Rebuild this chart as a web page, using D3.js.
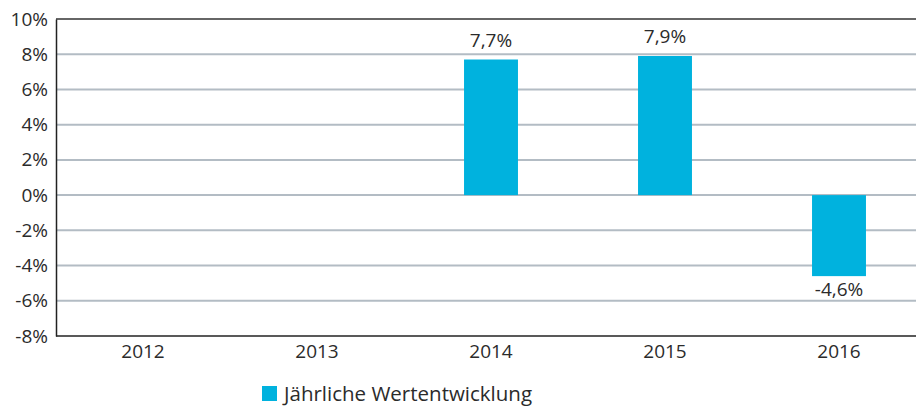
<!DOCTYPE html>
<html>
<head>
<meta charset="utf-8">
<script src="https://cdn.jsdelivr.net/npm/d3@7"></script>
<style>
  body { margin: 0; background: #fff; }
  svg { display: block; font-family: "Open Sans", "Noto Sans", sans-serif; }
</style>
</head>
<body>
<svg id="chart" width="916" height="406"></svg>
<script>
const years = ["2012", "2013", "2014", "2015", "2016"];
const values = [null, null, 7.7, 7.9, -4.6];
const yTicks = [-8, -6, -4, -2, 0, 2, 4, 6, 8, 10];
const seriesName = "Jährliche Wertentwicklung";

const W = 916, H = 406;
const margin = { top: 19, left: 56, bottom: 70 };
const svg = d3.select("#chart");

const x = d3.scaleBand().domain(years).range([margin.left, margin.left + 870]).paddingInner(0.69).paddingOuter(0.345);
const y = d3.scaleLinear().domain([-8, 10]).range([H - margin.bottom, margin.top]);

const fmt = v => (v < 0 ? "-" : "") + d3.format(".1f")(Math.abs(v)).replace(".", ",") + "%";

// gridlines
svg.append("g").selectAll("line").data(yTicks.filter(t => t > -8 && t < 10)).join("line")
  .attr("x1", margin.left).attr("x2", W)
  .attr("y1", d => y(d)).attr("y2", d => y(d))
  .attr("stroke", "#b3bcc4").attr("stroke-width", 2);

// top border
svg.append("line").attr("x1", margin.left).attr("x2", W)
  .attr("y1", y(10)).attr("y2", y(10)).attr("stroke", "#333").attr("stroke-width", 1.3);

// bars
const data = years.map((yr, i) => ({ year: yr, v: values[i] })).filter(d => d.v != null);
svg.append("g").selectAll("rect").data(data).join("rect")
  .attr("x", d => x(d.year))
  .attr("width", x.bandwidth())
  .attr("y", d => y(Math.max(0, d.v)))
  .attr("height", d => Math.abs(y(d.v) - y(0)))
  .attr("fill", "#00b2de");

// value labels
svg.append("g").selectAll("text").data(data).join("text")
  .attr("x", d => x(d.year) + x.bandwidth() / 2)
  .attr("y", d => d.v >= 0 ? y(d.v) - 13 : y(d.v) + 20)
  .attr("text-anchor", "middle")
  .attr("font-size", "19px").attr("fill", "#2b2b2b")
  .text(d => fmt(d.v));

// y axis
const yAxis = svg.append("g").attr("transform", `translate(${margin.left},0)`)
  .call(d3.axisLeft(y).tickValues(yTicks).tickFormat(d => d + "%").tickSize(0).tickPadding(8))
  .attr("font-family", null).attr("font-size", null);
yAxis.select(".domain").attr("stroke", "#222").attr("stroke-width", 1.5);
yAxis.selectAll("text").attr("font-size", "19px").attr("fill", "#2b2b2b");

// x axis
const xAxis = svg.append("g").attr("transform", `translate(0,${y(-8)})`)
  .call(d3.axisBottom(x).tickSize(0).tickPadding(9))
  .attr("font-family", null).attr("font-size", null);
xAxis.select(".domain").attr("stroke", "#222").attr("stroke-width", 1.5)
  .attr("d", `M${margin.left},0H${W}`);
xAxis.selectAll("text").attr("font-size", "19px").attr("fill", "#2b2b2b");

// legend
const lg = svg.append("g").attr("transform", "translate(262,386)");
lg.append("rect").attr("width", 15).attr("height", 15).attr("fill", "#00b2de");
lg.append("text").attr("x", 22).attr("y", 15).attr("font-size", "20.5px").attr("fill", "#2b2b2b").text(seriesName);
</script>
</body>
</html>
